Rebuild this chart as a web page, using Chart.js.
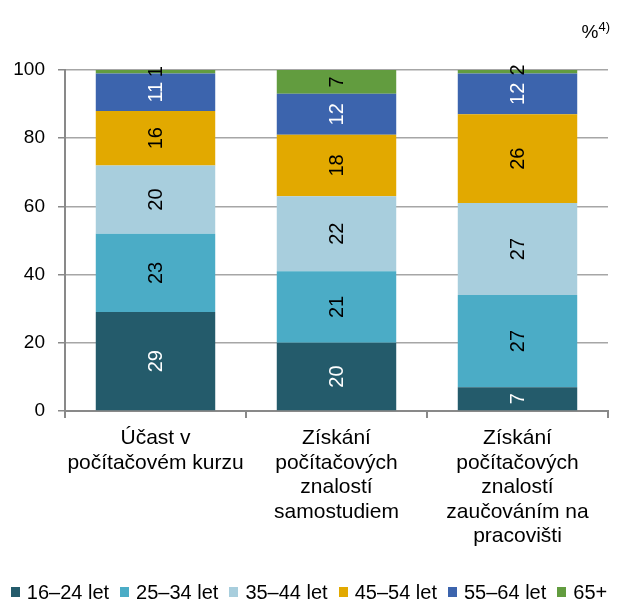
<!DOCTYPE html>
<html>
<head>
<meta charset="utf-8">
<script src="https://cdn.jsdelivr.net/npm/chart.js@4/dist/chart.umd.min.js"></script>
<style>
  html, body { margin: 0; padding: 0; background: #fff; }
  #wrap { position: relative; width: 618px; height: 603px; overflow: hidden; }
  #c { position: absolute; left: 0; top: 0; }
  #unit { position: absolute; right: 8px; top: 19px; font: 19px "Liberation Sans", Arial, sans-serif; color: #000; }
  #unit sup { font-size: 13px; vertical-align: 7px; }
  #legend { position: absolute; left: 0; top: 580px; width: 618px; height: 24px; display: flex; justify-content: center; align-items: center;
            font: 20px "Liberation Sans", Arial, sans-serif; color: #000; line-height: 24px; white-space: nowrap; }
  #legend .item { display: flex; align-items: center; margin-right: 11px; }
  #legend .item:last-child { margin-right: 0; }
  #legend .box { width: 9px; height: 10px; margin-right: 7px; }
</style>
</head>
<body>
<div id="wrap">
  <canvas id="c" width="618" height="603"></canvas>
  <div id="unit">%<sup>4)</sup></div>
  <div id="legend"></div>
</div>
<script>
const categories = [
  ["Účast v", "počítačovém kurzu"],
  ["Získání", "počítačových", "znalostí", "samostudiem"],
  ["Získání", "počítačových", "znalostí", "zaučováním na", "pracovišti"]
];
const seriesNames = ["16–24 let", "25–34 let", "35–44 let", "45–54 let", "55–64 let", "65+"];
const age16_24 = [29, 20, 7];
const age25_34 = [23, 21, 27];
const age35_44 = [20, 22, 27];
const age45_54 = [16, 18, 26];
const age55_64 = [11, 12, 12];
const age65plus = [1, 7, 2];
const yTicks = [0, 20, 40, 60, 80, 100];

const seriesValues = [age16_24, age25_34, age35_44, age45_54, age55_64, age65plus];
const colors = ["#245B6B", "#4BACC6", "#A8CEDD", "#E2A900", "#3C64AD", "#629C3F"];
const labelColors = ["#fff", "#000", "#000", "#000", "#fff", "#000"];
const FONT = '"Liberation Sans", Arial, sans-serif';

const labelPlugin = {
  id: 'segLabels',
  afterDatasetsDraw(chart) {
    const ctx = chart.ctx;
    chart.data.datasets.forEach((ds, di) => {
      const meta = chart.getDatasetMeta(di);
      meta.data.forEach((bar, i) => {
        const v = ds.data[i];
        const cx = bar.x;
        const cy = (bar.y + bar.base) / 2;
        ctx.save();
        ctx.translate(cx, cy);
        ctx.rotate(-Math.PI / 2);
        ctx.fillStyle = labelColors[di];
        ctx.font = '20px ' + FONT;
        ctx.textAlign = 'center';
        ctx.textBaseline = 'middle';
        ctx.fillText(String(v), 0, 1);
        ctx.restore();
      });
    });
  }
};

const chart = new Chart(document.getElementById('c'), {
  type: 'bar',
  data: {
    labels: categories,
    datasets: seriesNames.map((n, i) => ({
      label: n,
      data: seriesValues[i],
      backgroundColor: colors[i],
      borderWidth: 0,
      barPercentage: 0.66,
      categoryPercentage: 1
    }))
  },
  options: {
    responsive: false,
    animation: false,
    layout: { padding: { top: 70, right: 10, bottom: 0, left: 0 } },
    plugins: {
      legend: { display: false },
      tooltip: { enabled: false },
      title: { display: false }
    },
    scales: {
      x: {
        stacked: true,
        grid: { display: true, drawOnChartArea: false, offset: true, tickLength: 7, color: '#898989', lineWidth: 2 },
        border: { color: '#898989', width: 2 },
        ticks: { font: { size: 21, family: FONT, lineHeight: 1.167 }, color: '#000', maxRotation: 0, autoSkip: false, padding: 8 },
        afterFit(scale) { scale.height = 192; }
      },
      y: {
        stacked: true,
        min: 0, max: 100,
        afterBuildTicks(scale) { scale.ticks = yTicks.map(v => ({ value: v })); },
        grid: { color: '#A6A6A6', lineWidth: 1.5, tickLength: 7, tickColor: '#898989' },
        border: { color: '#898989', width: 2 },
        ticks: { font: { size: 19, family: FONT }, color: '#000', padding: 13 },
        afterFit(scale) { scale.width = 65; }
      }
    }
  },
  plugins: [labelPlugin]
});

// legend built from the chart's own dataset definitions
const legendEl = document.getElementById('legend');
chart.data.datasets.forEach(ds => {
  const item = document.createElement('span');
  item.className = 'item';
  const box = document.createElement('span');
  box.className = 'box';
  box.style.background = ds.backgroundColor;
  const txt = document.createElement('span');
  txt.textContent = ds.label;
  item.appendChild(box);
  item.appendChild(txt);
  legendEl.appendChild(item);
});
</script>
</body>
</html>
